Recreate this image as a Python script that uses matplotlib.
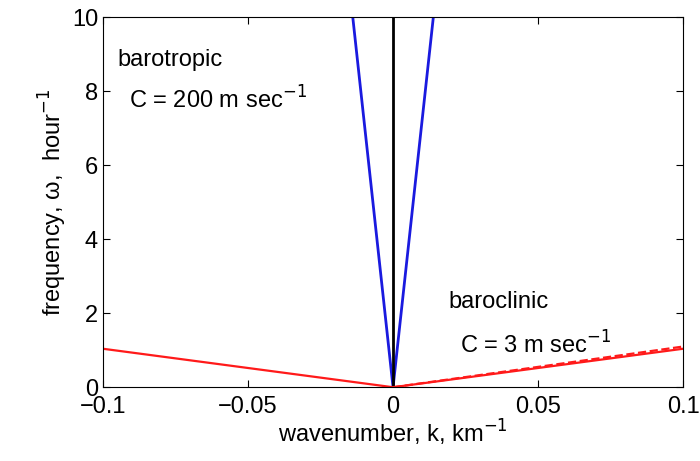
import numpy as np
import matplotlib
matplotlib.use("Agg")
import matplotlib.pyplot as plt

k_full = np.array([-0.1, 0.0, 0.1])
c_baro = 720.0   # km/hour (200 m/s)
c_clin = 10.4    # km/hour
c_clin_dash = 11.0
k_dash = np.array([0.0, 0.1])

plt.rcParams['font.family'] = ['Liberation Sans', 'DejaVu Sans']
fig = plt.figure(figsize=(7, 4.61), dpi=100)
ax = fig.add_axes([0.147, 0.16, 0.829, 0.803])

ax.plot(k_full, np.abs(k_full) * c_baro, color='#1a1adf', lw=2)
ax.plot([0, 0], [0, 10], color='k', lw=2)
ax.plot(k_full, np.abs(k_full) * c_clin, color='#ff1a1a', lw=1.6)
ax.plot(k_dash, k_dash * c_clin_dash, color='#ff1a1a', lw=1.6, ls='--')

ax.set_xlim(-0.1, 0.1)
ax.set_ylim(0, 10)
ax.set_xticks([-0.1, -0.05, 0, 0.05, 0.1])
ax.set_xticklabels(['\u22120.1', '\u22120.05', '0', '0.05', '0.1'])
ax.set_yticks([0, 2, 4, 6, 8, 10])
ax.tick_params(direction='in', top=True, right=True, labelsize=17, length=5)
ax.tick_params(axis='x', pad=6)
ax.set_xlabel('wavenumber, k, km$^{-1}$', fontsize=17, labelpad=0)
ax.set_ylabel('frequency, \u03c9,  hour$^{-1}$', fontsize=17, labelpad=2)

ax.text(-0.095, 8.85, 'barotropic', fontsize=17, va='center')
ax.text(-0.091, 7.75, 'C = 200 m sec$^{-1}$', fontsize=17, va='center')
ax.text(0.019, 2.3, 'baroclinic', fontsize=17, va='center')
ax.text(0.023, 1.13, 'C = 3 m sec$^{-1}$', fontsize=17, va='center')

fig.savefig('out.png', dpi=100)
